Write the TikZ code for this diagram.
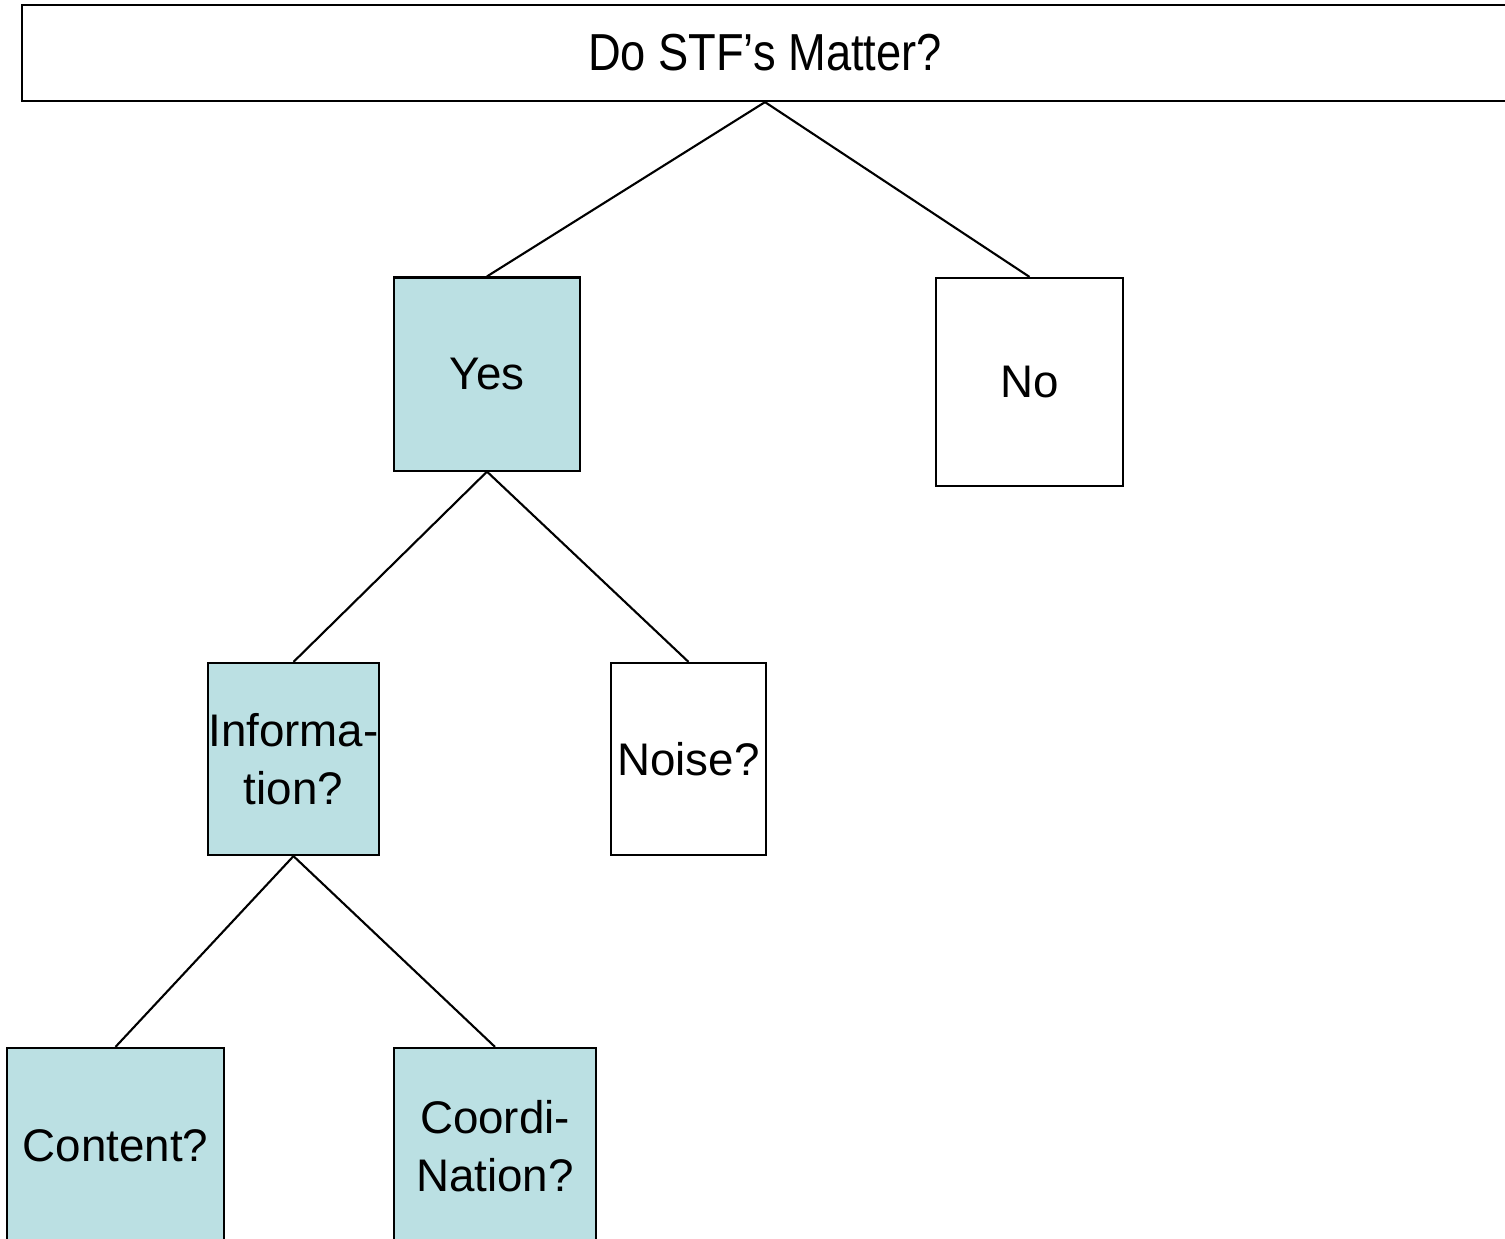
\documentclass[tikz,border=0pt]{standalone}
\usepackage{fontspec}
\setmainfont{Liberation Sans}
\definecolor{bleuclair}{RGB}{187,224,227}

\begin{document}
\begin{tikzpicture}[x=0.01cm, y=-0.01cm]
			\tikzset{boite/.style={rectangle, draw=black, line width=0.6pt, inner sep=0pt, align=center, font=\fontsize{13}{16.4}\selectfont}, bleue/.style={boite, fill=bleuclair}, lien/.style={draw=black, line width=0.6pt}};

			\useasboundingbox (0,0) rectangle (1505,1238);
			\clip (0,0) rectangle (1505,1238);

			\node[boite, minimum width=14.86cm, minimum height=0.96cm] (titre) at (  765,   53) {\fontsize{14.8}{17}\selectfont\scalebox{0.87}[1]{Do STF’s Matter?}};

			\node[bleue, minimum width=1.86cm, minimum height=1.93cm] (oui) at (  487,  374) {Yes};
			\node[boite, minimum width=1.87cm, minimum height=2.08cm] (non) at ( 1029.5,  382) {No};

			\node[bleue, minimum width=1.71cm, minimum height=1.92cm] (info) at (  293.5,  759) {Informa-\\tion?};
			\node[boite, minimum width=1.55cm, minimum height=1.92cm] (bruit) at (  688.5,  759) {Noise?};

			\node[bleue, minimum width=2.17cm, minimum height=1.96cm] (contenu) at (  115.5, 1146) {Content?};
			\node[bleue, minimum width=2.02cm, minimum height=1.96cm] (coord) at (  495, 1146) {Coordi-\\Nation?};

			\draw[lien] (titre.south) -- (oui.north);
			\draw[lien] (titre.south) -- (non.north);
			\draw[lien] (oui.south) -- (info.north);
			\draw[lien] (oui.south) -- (bruit.north);
			\draw[lien] (info.south) -- (contenu.north);
			\draw[lien] (info.south) -- (coord.north);

\end{tikzpicture}
\end{document}
